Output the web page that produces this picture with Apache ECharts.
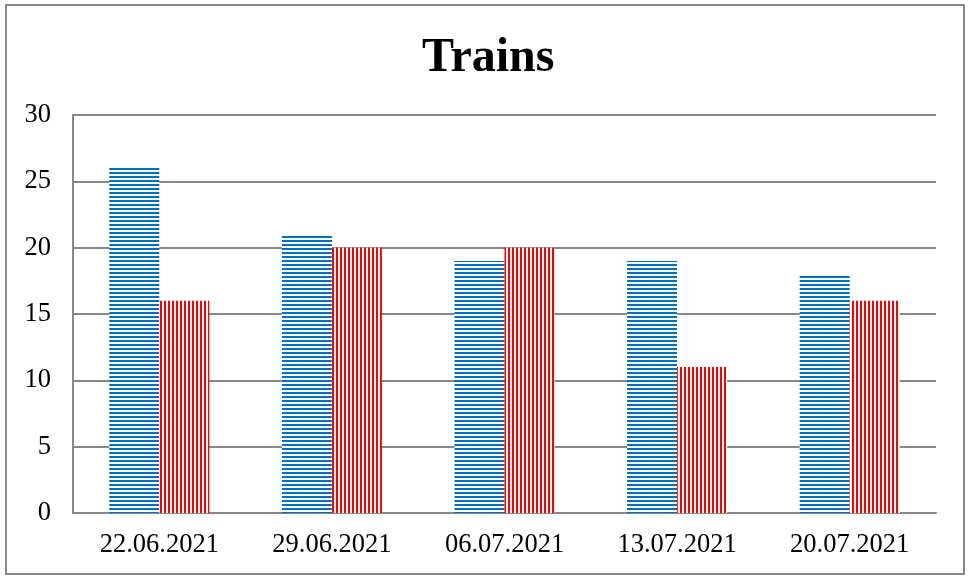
<!DOCTYPE html>
<html>
<head>
<meta charset="utf-8">
<script src="https://cdn.jsdelivr.net/npm/echarts@6/dist/echarts.min.js"></script>
<style>
html,body{margin:0;padding:0;background:#fff;}
#c{width:969px;height:576px;}
</style>
</head>
<body>
<div id="c"></div>
<script>
var categories = ['22.06.2021','29.06.2021','06.07.2021','13.07.2021','20.07.2021'];
var seriesA = [26, 21, 19, 19, 18];
var seriesB = [16, 20, 20, 11, 16];
var yTicks = {min: 0, max: 30, interval: 5};

function makePattern(color, horizontal) {
  var cv = document.createElement('canvas');
  cv.width = 4; cv.height = 4;
  var ctx = cv.getContext('2d');
  ctx.fillStyle = '#ffffff';
  ctx.fillRect(0, 0, 4, 4);
  ctx.fillStyle = color;
  if (horizontal) ctx.fillRect(0, 0, 4, 2);
  else ctx.fillRect(0, 0, 2, 4);
  return cv;
}

var chart = echarts.init(document.getElementById('c'), null, {renderer: 'canvas'});
var font = '"Liberation Serif", "Times New Roman", serif';
chart.setOption({
  animation: false,
  backgroundColor: '#ffffff',
  title: {
    text: 'Trains',
    left: 417,
    top: 30,
    textStyle: {fontFamily: font, fontSize: 48, fontWeight: 'bold', color: '#000'}
  },
  graphic: [{
    type: 'rect',
    shape: {x: 6, y: 5, width: 958, height: 569},
    style: {fill: 'none', stroke: '#888888', lineWidth: 2},
    silent: true
  }],
  grid: {left: 73, right: 33, top: 115, bottom: 63, containLabel: false},
  xAxis: {
    type: 'category',
    data: categories,
    axisLine: {lineStyle: {color: '#888888', width: 2}},
    axisTick: {show: false},
    axisLabel: {fontFamily: font, fontSize: 26.5, color: '#000', margin: 19}
  },
  yAxis: {
    type: 'value',
    min: yTicks.min, max: yTicks.max, interval: yTicks.interval,
    axisLine: {show: true, lineStyle: {color: '#888888', width: 2}},
    axisTick: {show: false},
    axisLabel: {fontFamily: font, fontSize: 26.5, color: '#000', margin: 22},
    splitLine: {lineStyle: {color: '#888888', width: 2}}
  },
  series: [{
    type: 'bar',
    data: seriesA,
    barWidth: 50,
    barGap: '0%',
    itemStyle: {color: {image: makePattern('#0070c0', true), repeat: 'repeat'}}
  }, {
    type: 'bar',
    data: seriesB,
    barWidth: 50,
    barGap: '0%',
    itemStyle: {color: {image: makePattern('#ff0000', false), repeat: 'repeat'}}
  }]
});
</script>
</body>
</html>
